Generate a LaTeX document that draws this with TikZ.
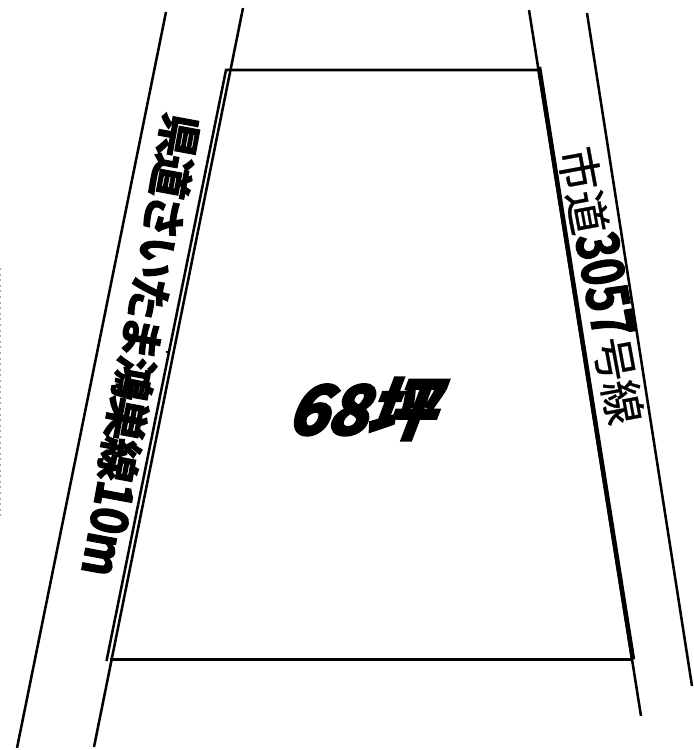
\documentclass[tikz,border=0pt]{standalone}
\usepackage{fontspec}
\newfontfamily\cjkr[FakeBold=0.6]{Noto Sans CJK JP}
\newfontfamily\cjkhv[FakeSlant=0.38,FakeBold=5.5]{Noto Sans CJK JP Bold}
\newfontfamily\cjkheavy[FakeBold=3,LetterSpace=-6]{Noto Sans CJK JP Bold}
\newfontfamily\cjkdig[FakeBold=2,FakeStretch=0.76]{Noto Sans CJK JP Bold}
\newfontfamily\cjkdigr[FakeBold=3,FakeStretch=0.88]{Noto Sans CJK JP Bold}
\tikzset{
  lotline/.style={line width=1.9pt,black},
  heavyline/.style={line width=3.4pt,black},
  label/.style={inner sep=0pt,black,anchor=center}
}
\begin{document}
\begin{tikzpicture}[x=0.75pt,y=-0.75pt]
\useasboundingbox (0,0) rectangle (693,750);
\coordinate (lo1) at (166,12); \coordinate (lo2) at (17,748);
\coordinate (li1) at (243,8); \coordinate (li2) at (94,747);
\coordinate (ri1) at (529,10); \coordinate (ri2) at (641,716);
\coordinate (ro1) at (587,13); \coordinate (ro2) at (692,686);
\coordinate (a) at (226,70); \coordinate (b) at (539,70);
\coordinate (c) at (633,659.5); \coordinate (d) at (106.5,661);
\coordinate (e) at (110,659.5); \coordinate (bt) at (539,67);
\coordinate (t1) at (165.5,352); \coordinate (t2) at (170,352);
\draw[lotline] (lo1) -- (lo2);
\draw[lotline] (li1) -- (li2);
\draw[lotline] (ri1) -- (ri2);
\draw[lotline] (ro1) -- (ro2);
\draw[lotline] (d) -- (a) -- (b);
\draw[lotline] (e) -- (c);
\draw[heavyline] (bt) -- (c);
\draw[line width=0.8pt] (t1) -- (t2);
\draw[gray!70,line width=0.8pt,dash pattern=on 1.5pt off 2.7pt] (0,268) -- (0,516);
\node[label,rotate=-100.5] (lefttext) at (140.5,345) {\cjkheavy\fontsize{33}{33}\selectfont 県道さいたま鴻巣線\cjkdigr\fontsize{38}{38}\selectfont 10m};
\node[label,rotate=-79.5] (righttext) at (604,285) {\cjkr\fontsize{33}{33}\selectfont 市道\cjkdig\fontsize{44}{44}\selectfont 3057\cjkr\fontsize{33}{33}\selectfont 号線};
\node[label,font=\cjkhv\fontsize{50}{50}\selectfont] (area) at (359,409) {68坪};
\end{tikzpicture}
\end{document}
